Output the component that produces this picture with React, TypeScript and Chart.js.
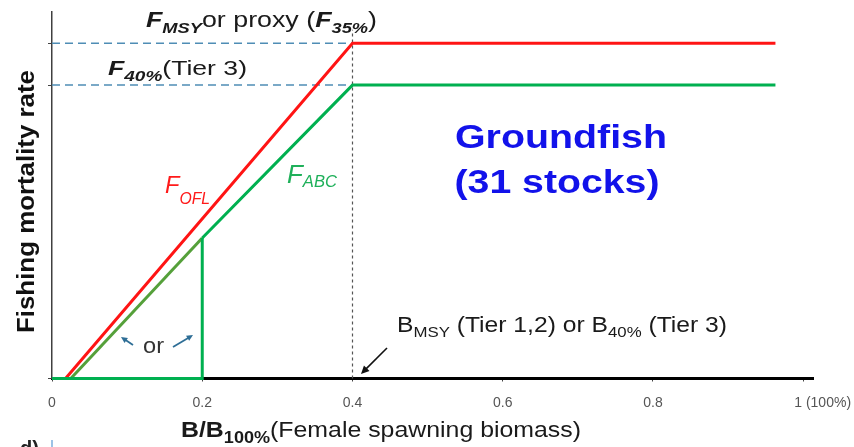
import React, { useEffect, useRef } from "react";
import { Chart, registerables } from "chart.js";

Chart.register(...registerables);

// ---- data ----
const xTickValues = [0, 0.2, 0.4, 0.6, 0.8, 1];
const xTickLabels = ["0", "0.2", "0.4", "0.6", "0.8", "1 (100%)"];
const yTickValues = [0, 0.875, 1];

const fOflX = [0.018, 0.4, 0.963];
const fOflY = [0, 1, 1];

const fAbcLowX = [0.025, 0.2];
const fAbcLowY = [0, 0.419];

const fAbcHighX = [0.2, 0.4, 0.963];
const fAbcHighY = [0.419, 0.875, 0.875];

const stepX = [0, 0.2, 0.2];
const stepY = [0, 0, 0.419];

const refLevelX = [0, 0.4];
const fMsyLevel = 1;
const f40Level = 0.875;

const bmsyX = [0.4, 0.4];
const bmsyY = [0, 1.04];

const X_MAX = 1.013;
const Y_MAX = 1.093;

const FF = '"Liberation Sans", Arial, sans-serif';

const pts = (xs: number[], ys: number[]) => xs.map((x, i) => ({ x, y: ys[i] }));

type Run = { t: string; font: string; dy?: number; color?: string };

function drawRuns(
  ctx: CanvasRenderingContext2D,
  runs: Run[],
  x: number,
  y: number,
  align: "left" | "center",
  width?: number,
  color = "#1a1a1a"
) {
  ctx.save();
  ctx.textBaseline = "alphabetic";
  ctx.textAlign = "left";
  const ws = runs.map((r) => {
    ctx.font = r.font;
    return ctx.measureText(r.t).width;
  });
  const w0 = ws.reduce((a, b) => a + b, 0);
  const sx = width ? width / w0 : 1;
  const start = align === "center" ? x - (w0 * sx) / 2 : x;
  ctx.translate(start, y);
  ctx.scale(sx, 1);
  let cx = 0;
  runs.forEach((r, i) => {
    ctx.font = r.font;
    ctx.fillStyle = r.color || color;
    ctx.fillText(r.t, cx, r.dy || 0);
    cx += ws[i];
  });
  ctx.restore();
}

function arrow(
  ctx: CanvasRenderingContext2D,
  x1: number,
  y1: number,
  x2: number,
  y2: number,
  color: string,
  lw: number,
  head: number
) {
  ctx.save();
  ctx.strokeStyle = color;
  ctx.fillStyle = color;
  ctx.lineWidth = lw;
  const a = Math.atan2(y2 - y1, x2 - x1);
  ctx.beginPath();
  ctx.moveTo(x1, y1);
  ctx.lineTo(x2 - Math.cos(a) * head * 0.6, y2 - Math.sin(a) * head * 0.6);
  ctx.stroke();
  ctx.beginPath();
  ctx.moveTo(x2, y2);
  ctx.lineTo(x2 - head * Math.cos(a - 0.45), y2 - head * Math.sin(a - 0.45));
  ctx.lineTo(x2 - head * Math.cos(a + 0.45), y2 - head * Math.sin(a + 0.45));
  ctx.closePath();
  ctx.fill();
  ctx.restore();
}

const textPlugin = {
  id: "texts",
  afterDraw(chart: any) {
    const ctx: CanvasRenderingContext2D = chart.ctx;
    const xs = chart.scales.x;

    // tick labels
    ctx.save();
    ctx.font = `14px ${FF}`;
    ctx.fillStyle = "#555";
    ctx.textBaseline = "alphabetic";
    xTickValues.forEach((v, i) => {
      const px = xs.getPixelForValue(v);
      const last = i === xTickValues.length - 1;
      ctx.textAlign = last ? "left" : "center";
      ctx.fillText(xTickLabels[i], last ? px - 9 : px, 407);
    });
    ctx.restore();

    // top label
    drawRuns(
      ctx,
      [
        { t: "F", font: `italic bold 22px ${FF}` },
        { t: "MSY", font: `italic bold 15px ${FF}`, dy: 6 },
        { t: "or proxy (", font: `22px ${FF}` },
        { t: "F", font: `italic bold 22px ${FF}` },
        { t: "35%", font: `italic bold 15px ${FF}`, dy: 6 },
        { t: ")", font: `22px ${FF}` },
      ],
      146,
      27,
      "left",
      231
    );

    // F40 label
    drawRuns(
      ctx,
      [
        { t: "F", font: `italic bold 21px ${FF}` },
        { t: "40%", font: `italic bold 15px ${FF}`, dy: 6 },
        { t: "(Tier 3)", font: `21px ${FF}` },
      ],
      108,
      75,
      "left",
      139
    );

    // F_OFL
    drawRuns(
      ctx,
      [
        { t: "F", font: `italic 24px ${FF}` },
        { t: "OFL", font: `italic 16px ${FF}`, dy: 11 },
      ],
      165,
      193,
      "left",
      45,
      "#ff1a1a"
    );

    // F_ABC
    drawRuns(
      ctx,
      [
        { t: "F", font: `italic 25px ${FF}` },
        { t: "ABC", font: `italic 16px ${FF}`, dy: 4 },
      ],
      287,
      183,
      "left",
      50,
      "#1fb05a"
    );

    // Groundfish
    drawRuns(ctx, [{ t: "Groundfish", font: `bold 33px ${FF}` }], 561, 148, "center", 212, "#1212ea");
    drawRuns(ctx, [{ t: "(31 stocks)", font: `bold 33px ${FF}` }], 557, 193, "center", 205, "#1212ea");

    // BMSY label
    drawRuns(
      ctx,
      [
        { t: "B", font: `22px ${FF}` },
        { t: "MSY", font: `15px ${FF}`, dy: 5 },
        { t: " (Tier 1,2) or B", font: `22px ${FF}` },
        { t: "40%", font: `15px ${FF}`, dy: 5 },
        { t: " (Tier 3)", font: `22px ${FF}` },
      ],
      397,
      332,
      "left",
      330
    );
    arrow(ctx, 387, 348, 361, 374, "#111", 1.6, 9);

    // "or" with arrows
    drawRuns(ctx, [{ t: "or", font: `22px ${FF}` }], 143, 353, "left", 21, "#333");
    arrow(ctx, 133, 345, 121, 337, "#2e6e96", 1.8, 7);
    arrow(ctx, 173, 347, 193, 335, "#2e6e96", 1.8, 7);

    // x title
    drawRuns(
      ctx,
      [
        { t: "B/B", font: `bold 22px ${FF}` },
        { t: "100%", font: `bold 16px ${FF}`, dy: 6 },
        { t: "(Female spawning biomass)", font: `22px ${FF}` },
      ],
      181,
      437,
      "left",
      400
    );

    // y title
    ctx.save();
    ctx.translate(34, 201.5);
    ctx.rotate(-Math.PI / 2);
    drawRuns(ctx, [{ t: "Fishing mortality rate", font: `bold 23px ${FF}` }], 0, 0, "center", 263, "#111");
    ctx.restore();

    // cut-off fragment of next panel
    ctx.save();
    ctx.font = `bold 20px ${FF}`;
    ctx.fillStyle = "#222";
    ctx.fillText("d)", 20, 455);
    ctx.strokeStyle = "#5b9bd5";
    ctx.lineWidth = 1.2;
    ctx.beginPath();
    ctx.moveTo(52, 440);
    ctx.lineTo(52, 447);
    ctx.stroke();
    ctx.restore();
  },
};

export default function App() {
  const ref = useRef<HTMLCanvasElement>(null);

  useEffect(() => {
    if (!ref.current) return;
    const line = (data: any[], color: string, width: number, dash: number[] = []) => ({
      data,
      borderColor: color,
      backgroundColor: color,
      borderWidth: width,
      borderDash: dash,
      pointRadius: 0,
      showLine: true,
      fill: false,
      tension: 0,
      clip: false as any,
    });
    const chart = new Chart(ref.current, {
      type: "scatter",
      data: {
        datasets: [
          line(pts(stepX, stepY), "#00b050", 3),
          line(pts(fAbcLowX, fAbcLowY), "#55a03a", 3),
          line(pts(fAbcHighX, fAbcHighY), "#00b050", 3),
          line(pts(fOflX, fOflY), "#ff1414", 3),
          line(pts(refLevelX, refLevelX.map(() => fMsyLevel)), "#4f8db5", 1.5, [8, 5]),
          line(pts(refLevelX, refLevelX.map(() => f40Level)), "#4f8db5", 1.5, [8, 5]),
          line(pts(bmsyX, bmsyY), "#555", 1.2, [3, 3]),
        ],
      },
      options: {
        animation: false,
        responsive: false,
        devicePixelRatio: 1,
        events: [],
        layout: { padding: { left: 0, top: 12, right: 41, bottom: 0 } },
        plugins: { legend: { display: false }, tooltip: { enabled: false } },
        scales: {
          x: {
            type: "linear",
            min: 0,
            max: X_MAX,
            afterBuildTicks: (s: any) => {
              s.ticks = xTickValues.map((v) => ({ value: v }));
            },
            afterFit: (s: any) => {
              s.height = 68.5;
            },
            ticks: { callback: () => "", font: { size: 1 } },
            grid: { drawOnChartArea: false, drawTicks: true, tickLength: 3, color: "#444", lineWidth: 1 },
            border: { display: true, color: "#000", width: 3 },
          },
          y: {
            type: "linear",
            min: 0,
            max: Y_MAX,
            afterBuildTicks: (s: any) => {
              s.ticks = yTickValues.map((v) => ({ value: v }));
            },
            afterFit: (s: any) => {
              s.width = 52;
            },
            ticks: { callback: () => "", font: { size: 1 } },
            grid: { drawOnChartArea: false, drawTicks: true, tickLength: 4, color: "#444", lineWidth: 1 },
            border: { display: true, color: "#404040", width: 1.5 },
          },
        },
      },
      plugins: [textPlugin],
    });
    return () => chart.destroy();
  }, []);

  return (
    <div style={{ position: "absolute", left: 0, top: 0, width: 854, height: 447, background: "#fff" }}>
      <canvas ref={ref} width={854} height={447} style={{ width: 854, height: 447, display: "block" }} />
    </div>
  );
}
